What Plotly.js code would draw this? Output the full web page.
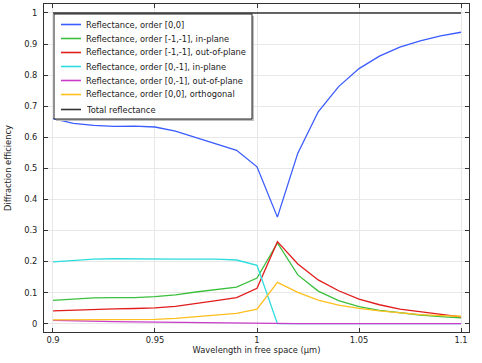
<!DOCTYPE html>
<html>
<head>
<meta charset="utf-8">
<script src="https://cdn.plot.ly/plotly-3.0.1.min.js"></script>
<style>html,body{margin:0;padding:0;background:#fff;}#chart{width:482px;height:363px;}</style>
</head>
<body>
<div id="chart"></div>
<script>
const wavelength = [0.90,0.91,0.92,0.93,0.94,0.95,0.96,0.97,0.98,0.99,1.00,1.01,1.02,1.03,1.04,1.05,1.06,1.07,1.08,1.09,1.10];
const reflOrder00 = [0.660,0.645,0.638,0.635,0.636,0.633,0.620,0.600,0.580,0.558,0.505,0.343,0.549,0.682,0.763,0.821,0.861,0.890,0.910,0.926,0.938];
const reflM1M1In = [0.075,0.080,0.083,0.084,0.084,0.087,0.093,0.102,0.110,0.118,0.147,0.260,0.157,0.105,0.074,0.055,0.043,0.035,0.028,0.023,0.019];
const reflM1M1Out = [0.041,0.044,0.046,0.048,0.049,0.051,0.056,0.064,0.074,0.084,0.114,0.264,0.192,0.141,0.106,0.079,0.061,0.047,0.038,0.030,0.022];
const refl0M1In = [0.199,0.204,0.208,0.209,0.208,0.208,0.208,0.208,0.208,0.205,0.188,0.000,0.000,0.000,0.000,0.000,0.000,0.000,0.000,0.000,0.000];
const refl0M1Out = [0.011,0.009,0.008,0.007,0.006,0.005,0.004,0.003,0.002,0.001,0.001,0.000,0.000,0.000,0.000,0.000,0.000,0.000,0.000,0.000,0.000];
const refl00Orth = [0.012,0.012,0.013,0.013,0.013,0.014,0.017,0.022,0.027,0.033,0.047,0.133,0.101,0.076,0.060,0.049,0.041,0.034,0.029,0.026,0.024];
const reflTotal = [1,1,1,1,1,1,1,1,1,1,1,1,1,1,1,1,1,1,1,1,1];
const seriesNames = ["Reflectance, order [0,0]","Reflectance, order [-1,-1], in-plane","Reflectance, order [-1,-1], out-of-plane","Reflectance, order [0,-1], in-plane","Reflectance, order [0,-1], out-of-plane","Reflectance, order [0,0], orthogonal","Total reflectance"];
const xTickVals = [0.9,0.95,1,1.05,1.1];
const xTickText = ["0.9","0.95","1","1.05","1.1"];
const yTickVals = [0,0.1,0.2,0.3,0.4,0.5,0.6,0.7,0.8,0.9,1];
const yTickText = ["0","0.1","0.2","0.3","0.4","0.5","0.6","0.7","0.8","0.9","1"];

const seriesData = [reflOrder00, reflM1M1In, reflM1M1Out, refl0M1In, refl0M1Out, refl00Orth, reflTotal];
const colors = ["#3a5cff","#3cbf3c","#e01c1c","#2ddcdc","#c83cc8","#ffbf1f","#333333"];
const FONT = "DejaVu Sans, sans-serif";

const traces = seriesData.map((ys,i)=>({
  x: wavelength, y: ys, type:"scatter", mode:"lines", name: seriesNames[i],
  line:{color:colors[i], width:1.3}, showlegend:false, hoverinfo:"skip"
}));

// custom legend (paper coords) matching compact spacing
const plotL=44, plotR=469, plotT=4, plotB=332;
const W=plotR-plotL, H=plotB-plotT;
const px=(x)=>(x-plotL)/W, py=(y)=>1-(y-plotT)/H;
const shapes=[];
const annotations=[];
shapes.push({type:"rect",xref:"paper",yref:"paper",x0:px(56),x1:px(254),y0:py(121),y1:py(16),fillcolor:"#bdbdbd",line:{width:0},layer:"above"});
shapes.push({type:"rect",xref:"paper",yref:"paper",x0:px(54),x1:px(252),y0:py(119),y1:py(14),fillcolor:"#ffffff",line:{color:"#222",width:1},layer:"above"});
const rowY=[24.5,38.5,52.5,66.5,80.5,94.5,109.5];
seriesNames.forEach((n,i)=>{
  shapes.push({type:"line",xref:"paper",yref:"paper",x0:px(61),x1:px(81),y0:py(rowY[i]),y1:py(rowY[i]),line:{color:colors[i],width:1.6},layer:"above"});
  annotations.push({xref:"paper",yref:"paper",x:px(84),y:py(rowY[i]),text:n,showarrow:false,xanchor:"left",yanchor:"middle",font:{family:FONT,size:8.3,color:"#222"}});
});

const layout = {
  width:482, height:363,
  margin:{l:plotL, r:482-plotR, t:plotT, b:363-plotB, pad:0},
  paper_bgcolor:"#fff", plot_bgcolor:"#fff",
  font:{family:FONT, size:8.3, color:"#222"},
  xaxis:{range:[0.8956,1.1039], tickvals:xTickVals, ticktext:xTickText, ticks:"inside", ticklen:4, tickcolor:"#333",
    showline:true, linecolor:"#333", linewidth:1, mirror:"ticks", showgrid:true, gridcolor:"#e8e8e8", zeroline:false,
    title:{text:"Wavelength in free space (µm)", font:{family:FONT,size:8.3,color:"#222"}, standoff:2}, automargin:false},
  yaxis:{range:[-0.0267,1.0289], tickvals:yTickVals, ticktext:yTickText, ticks:"inside", ticklen:4, tickcolor:"#333",
    ticklabelstandoff:4,
    showline:true, linecolor:"#333", linewidth:1, mirror:"ticks", showgrid:true, gridcolor:"#e8e8e8", zeroline:false,
    title:{text:"Diffraction efficiency", font:{family:FONT,size:8.3,color:"#222"}, standoff:11}, automargin:false},
  shapes:shapes, annotations:annotations, showlegend:false
};
Plotly.newPlot("chart", traces, layout, {staticPlot:true, displayModeBar:false});
</script>
</body>
</html>
